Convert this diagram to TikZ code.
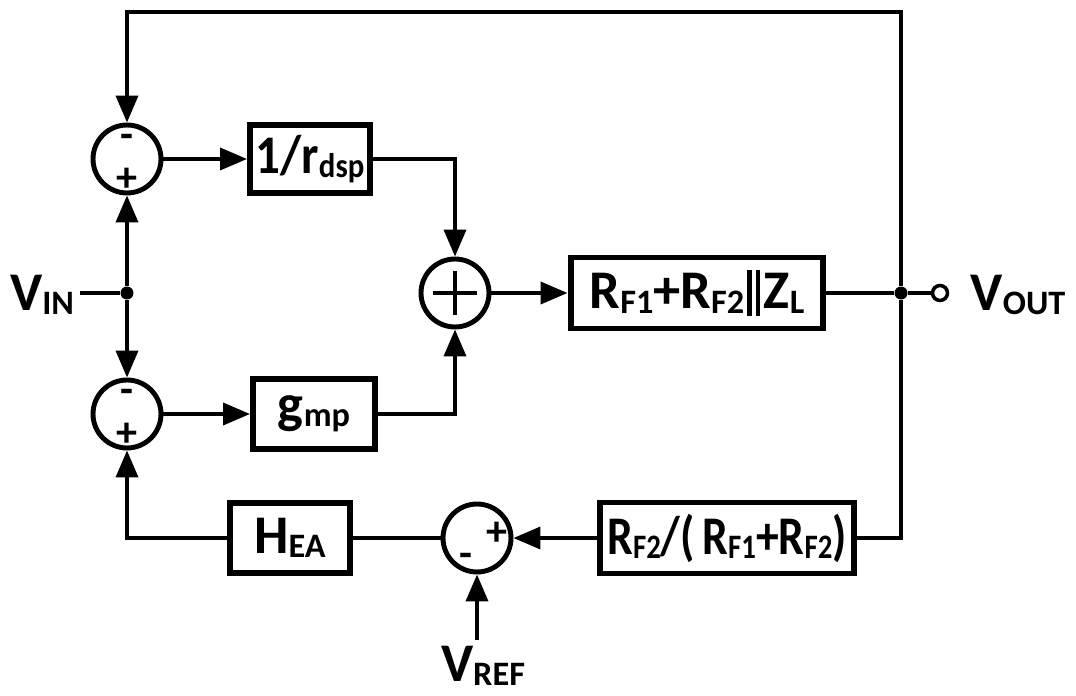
\documentclass[tikz,border=0pt]{standalone}
\usepackage{fontspec}
\setmainfont{Carlito}
\usetikzlibrary{arrows.meta}

% subscript in the diagram's style: small, nearly on the baseline
\newcommand{\sbs}[1]{\raisebox{-2.5pt}{\fontsize{19.5}{22}\selectfont #1}}
% parallel bars
\newcommand{\parbars}{\kern1.5pt\rule[-4pt]{2.6pt}{26pt}\kern2.4pt\rule[-4pt]{2.6pt}{26pt}\kern2pt}
% narrow label
\newcommand{\narrow}[2]{\scalebox{#1}[1]{#2}}

\begin{document}
\begin{tikzpicture}[
    x=0.02cm, y=-0.02cm,
    every node/.style={font=\fontsize{31}{35}\selectfont\bfseries},
    blockbox/.style={
      rectangle, draw, line width=3.4pt, inner sep=0pt, align=center
    },
    sumnode/.style={circle, draw, line width=2.8pt, minimum size=1.36cm, inner sep=0pt},
    signtext/.style={font=\fontsize{24}{26}\selectfont\bfseries, inner sep=0pt},
    tapdot/.style={circle, fill, inner sep=0pt, minimum size=0.26cm},
    portnode/.style={circle, draw, fill=white, line width=2pt, inner sep=0pt, minimum size=0.3cm},
    wire/.style={line width=2.1pt},
    arr/.style={wire, -{Triangle[length=0.54cm, width=0.44cm]}}
  ]
    \useasboundingbox (0,0) rectangle (1076,696);

    % Summing junctions
    \node[sumnode] (sumA) at (127,159) {};
    \node[sumnode] (sumB) at (127,414) {};
    \node[sumnode] (sumS) at (455,293) {};
    \node[sumnode] (sumC) at (477,538) {};

    % Signs inside the junctions
    \node[signtext] (sgnA1) at (127,141) {-};
    \node[signtext] (sgnA2) at (127,180) {+};
    \node[signtext] (sgnB1) at (127,396) {-};
    \node[signtext] (sgnB2) at (127,435) {+};
    \node[signtext] (sgnC1) at (497,534) {+};
    \node[signtext] (sgnC2) at (466,560) {-};
    \draw[line width=2.8pt] (sumS.center) ++(-22,0) -- ++(44,0);
    \draw[line width=2.8pt] (sumS.center) ++(0,-22) -- ++(0,44);

    % Blocks
    \node[blockbox, minimum width=2.4cm, minimum height=1.36cm] (rdsp) at (310,159) {\narrow{0.9}{1/r\sbs{dsp}}};
    \node[blockbox, minimum width=2.44cm, minimum height=1.4cm] (gmp) at (314,414) {g\sbs{mp}};
    \node[blockbox, minimum width=5.06cm, minimum height=1.42cm] (zl) at (697,293) {R\sbs{F1}+R\sbs{F2}\parbars Z\sbs{L}};
    \node[blockbox, minimum width=5.08cm, minimum height=1.42cm] (fb) at (727,538) {\narrow{0.84}{R\sbs{F2}/(\,R\sbs{F1}+R\sbs{F2})}};
    \node[blockbox, minimum width=2.4cm, minimum height=1.4cm] (hea) at (290,538) {H\sbs{EA}};

    % Terminals
    \node (vin) at (42,295) {V\sbs{IN}};
    \node (vout) at (1018,295) {V\sbs{OUT}};
    \node (vref) at (483,666) {V\sbs{REF}};
    \node[tapdot] (tapin) at (127,293) {};
    \node[tapdot] (tapout) at (901,293) {};
    \node[portnode] (port) at (940,293) {};
    \coordinate (topR) at (901,12);

    % Forward paths
    \draw[wire] (vin.east |- tapin) -- (tapin);
    \draw[arr] (tapin) -- (sumA.south);
    \draw[arr] (tapin) -- (sumB.north);
    \draw[arr] (sumA.east) -- (rdsp.west);
    \draw[arr] (sumB.east) -- (gmp.west);
    \draw[arr] (rdsp.east) -| (sumS.north);
    \draw[arr] (gmp.east) -| (sumS.south);
    \draw[arr] (sumS.east) -- (zl.west);
    \draw[wire] (zl.east) -- (tapout) -- (port.west);

    % Feedback paths
    \draw[arr] (tapout) -- (topR) -| (sumA.north);
    \draw[wire] (tapout) |- (fb.east);
    \draw[arr] (fb.west) -- (sumC.east);
    \draw[wire] (sumC.west) -- (hea.east);
    \draw[arr] (hea.west) -| (sumB.south);
    \draw[arr] (sumC.south |- vref.north) -- (sumC.south);

  \end{tikzpicture}
\end{document}
